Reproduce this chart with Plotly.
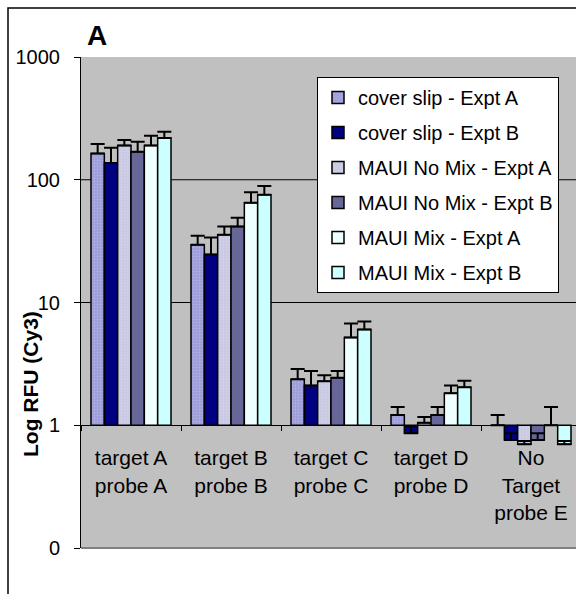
import plotly.graph_objects as go

categories = ["target A<br>probe A", "target B<br>probe B", "target C<br>probe C",
              "target D<br>probe D", "No<br>Target<br>probe E"]
series_names = ["cover slip - Expt A", "cover slip - Expt B", "MAUI No Mix - Expt A",
                "MAUI No Mix - Expt B", "MAUI Mix - Expt A", "MAUI Mix - Expt B"]

cover_a = [164, 29.6, 2.37, 1.21, 1.0]
cover_b = [137, 24.6, 2.11, 0.86, 0.76]
nomix_a = [190, 35.7, 2.28, 1.05, 0.70]
nomix_b = [169, 41.7, 2.44, 1.21, 0.76]
mix_a = [190, 65.0, 5.19, 1.82, 1.0]
mix_b = [219, 75.5, 6.03, 2.04, 0.70]

err_cover_a = [32, 5.4, 0.50, 0.20, 0.21]
err_cover_b = [45, 9.2, 0.66, 0.12, 0.10]
err_nomix_a = [21, 6.0, 0.27, 0.12, 0.045]
err_nomix_b = [35, 7.3, 0.33, 0.20, 0.10]
err_mix_a = [38, 14.0, 1.56, 0.29, 0.41]
err_mix_b = [27, 13.5, 0.97, 0.26, 0.045]

y_tickvals = [0.1, 1, 10, 100, 1000]
y_ticktext = ["0", "1", "10", "100", "1000"]
grid_vals = [10, 100]
axis_cross = 1

values = [cover_a, cover_b, nomix_a, nomix_b, mix_a, mix_b]
errors = [err_cover_a, err_cover_b, err_nomix_a, err_nomix_b, err_mix_a, err_mix_b]
styles = [
    dict(color="#9C9CD8", pattern=dict(shape=".", fgcolor="#C4C4F0", size=3, solidity=0.35)),
    dict(color="#000080"),
    dict(color="#C8C8E2", pattern=dict(shape=".", fgcolor="#DCDCEE", size=3, solidity=0.35)),
    dict(color="#666699"),
    dict(color="#EEFFFF"),
    dict(color="#CCFFFF"),
]

FONT = "Liberation Sans, Arial, sans-serif"

fig = go.Figure()
for i, (name, vals, errs, st) in enumerate(zip(series_names, values, errors, styles)):
    fig.add_trace(go.Bar(
        x=categories,
        y=[v - axis_cross for v in vals],
        base=axis_cross,
        name=name,
        legendgroup=f"g{i}",
        marker=dict(line=dict(color="black", width=1.5), **st),
        error_y=dict(type="data", symmetric=False, array=errs,
                     arrayminus=[0] * len(errs), color="black", thickness=2, width=7),
    ))

for g in grid_vals:
    fig.add_shape(type="line", xref="paper", yref="y", x0=0, x1=1, y0=g, y1=g,
                  line=dict(color="black", width=1), layer="below")

# bottom edge of plot area
fig.add_shape(type="line", xref="paper", yref="paper", x0=0, x1=1, y0=0, y1=0,
              line=dict(color="#808080", width=2))
# outer chart border
fig.add_shape(type="rect", xref="paper", yref="paper",
              x0=(8 - 81) / 495, x1=1.2, y0=-0.3, y1=(548 - 8) / 491,
              line=dict(color="black", width=1.5))

fig.add_annotation(text="<b>A</b>", xref="paper", yref="paper",
                   x=(85 - 81) / 495, y=(548 - 53) / 491, xanchor="left", yanchor="bottom",
                   showarrow=False, font=dict(size=28, family=FONT, color="black"))
fig.add_annotation(text="<b>Log RFU (Cy3)</b>", xref="paper", yref="paper",
                   x=(30 - 81) / 495, y=(548 - 384) / 491, textangle=-90,
                   xanchor="center", yanchor="middle",
                   showarrow=False, font=dict(size=21, family=FONT, color="black"))

fig.update_layout(
    width=576, height=594,
    margin=dict(l=81, r=0, t=57, b=46),
    paper_bgcolor="white",
    plot_bgcolor="#C0C0C0",
    barmode="group", bargap=0.2, bargroupgap=0,
    font=dict(family=FONT, size=19, color="black"),
    showlegend=True,
    legend=dict(x=(317 - 81) / 495, y=(548 - 77) / 491, xanchor="left", yanchor="top",
                bgcolor="white", bordercolor="black", borderwidth=1,
                font=dict(size=20, family=FONT), tracegroupgap=6,
                traceorder="grouped"),
    xaxis=dict(type="category", range=[-0.5, 4.45], anchor="free", position=0.25,
               showline=True, linecolor="black", linewidth=1,
               ticks="outside", ticklen=5, tickcolor="black", tickson="boundaries",
               showgrid=False, tickfont=dict(size=21, family=FONT),
               ticklabelstandoff=14),
    yaxis=dict(type="log", range=[-1, 3], tickmode="array", tickvals=y_tickvals,
               ticktext=y_ticktext, showgrid=False, showline=True, linecolor="black",
               linewidth=1, ticks="outside", ticklen=6, tickcolor="black",
               tickfont=dict(size=20, family=FONT), ticklabelstandoff=10, zeroline=False),
)

fig.write_html("out.html",
               config={"displayModeBar": False},
               post_script="document.body.style.margin='0px';"
                           "document.body.style.overflow='hidden';")
